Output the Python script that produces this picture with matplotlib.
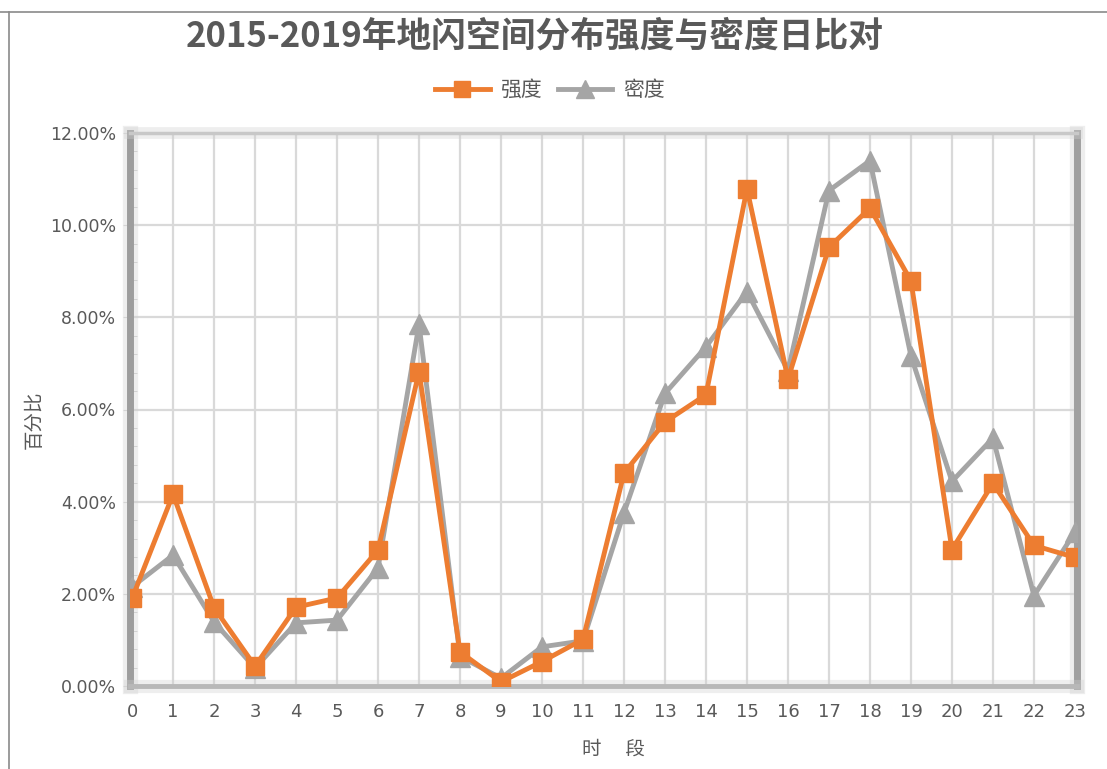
import matplotlib
matplotlib.use("Agg")
import matplotlib.pyplot as plt
import matplotlib.patheffects as pe
from matplotlib.lines import Line2D
from matplotlib.ticker import MultipleLocator, FuncFormatter

plt.rcParams['font.family'] = ['Noto Sans CJK SC', 'DejaVu Sans']

hours = list(range(24))
intensity = [1.90, 4.16, 1.70, 0.43, 1.71, 1.91, 2.95, 6.82, 0.74, 0.09, 0.53, 1.01,
             4.62, 5.73, 6.32, 10.79, 6.66, 9.52, 10.37, 8.79, 2.96, 4.40, 3.05, 2.79]
density = [2.15, 2.84, 1.39, 0.39, 1.37, 1.43, 2.56, 7.85, 0.64, 0.17, 0.85, 0.98,
           3.76, 6.35, 7.36, 8.56, 6.84, 10.75, 11.40, 7.16, 4.44, 5.38, 1.96, 3.34]

orange = '#ED7D31'
gray = '#A5A5A5'
txt = '#595959'

fig = plt.figure(figsize=(11.07, 7.69), dpi=100)
ax = fig.add_axes([130 / 1107, 1 - 686 / 769, 947 / 1107, 553 / 769])

ax.plot(hours, intensity, color=orange, lw=3.5, marker='s', ms=13, label='强度', zorder=4)
ax.plot(hours, density, color=gray, lw=3.5, marker='^', ms=14, label='密度', zorder=3)

ax.set_xlim(-0.05, 23.05)
ax.set_ylim(0, 12)
ax.set_xticks(hours)
ax.yaxis.set_major_locator(MultipleLocator(2))
ax.yaxis.set_minor_locator(MultipleLocator(0.4))
ax.yaxis.set_major_formatter(FuncFormatter(lambda v, p: f'{v:.2f}%'))
ax.grid(True, which='major', color='#d9d9d9', lw=1.6, zorder=0)
ax.set_axisbelow(True)

ax.tick_params(axis='y', which='major', length=5, color='#d9d9d9', labelsize=12.5,
               labelcolor=txt, pad=5)
ax.tick_params(axis='y', which='minor', direction='in', length=5, color='#cccccc')
ax.tick_params(axis='x', length=0, labelsize=13, labelcolor=txt, pad=12)
for lab in ax.get_xticklabels() + ax.get_yticklabels():
    lab.set_family('DejaVu Sans')

# framed plot area with a soft shadow
spine_style = {'left': ('#9d9d9d', 5), 'right': ('#a0a0a0', 5),
               'bottom': ('#b8b8b8', 3.5), 'top': ('#c8c8c8', 2.5)}
for side, (c, w) in spine_style.items():
    sp = ax.spines[side]
    sp.set_color(c)
    sp.set_linewidth(w)
    sp.set_path_effects([pe.Stroke(linewidth=w + 6, foreground='#d0d0d0', alpha=0.35),
                         pe.Normal()])

ax.set_ylabel('百分比', fontsize=14, color=txt)
ax.yaxis.set_label_coords(-0.090, 0.481)
ax.set_xlabel('时　 段', fontsize=14, color=txt)
ax.xaxis.set_label_coords(0.510, -0.095)

fig.text(535 / 1107, 1 - 36 / 769, '2015-2019年地闪空间分布强度与密度日比对',
         ha='center', va='center', fontsize=25, fontweight='bold', color=txt)

fig.legend(loc='center', bbox_to_anchor=(550 / 1107, 1 - 90 / 769), ncol=2,
           frameon=False, fontsize=15, labelcolor=txt, handlelength=2.6,
           columnspacing=0.8, handletextpad=0.5, markerscale=0.9)

# outer chart border
fig.add_artist(Line2D([0, 1], [1 - 12 / 769] * 2, color='#8a8a8a', lw=1.2))
fig.add_artist(Line2D([9 / 1107] * 2, [0, 1 - 12 / 769], color='#8a8a8a', lw=1.2))

fig.savefig('out.png', dpi=100, facecolor='white')
